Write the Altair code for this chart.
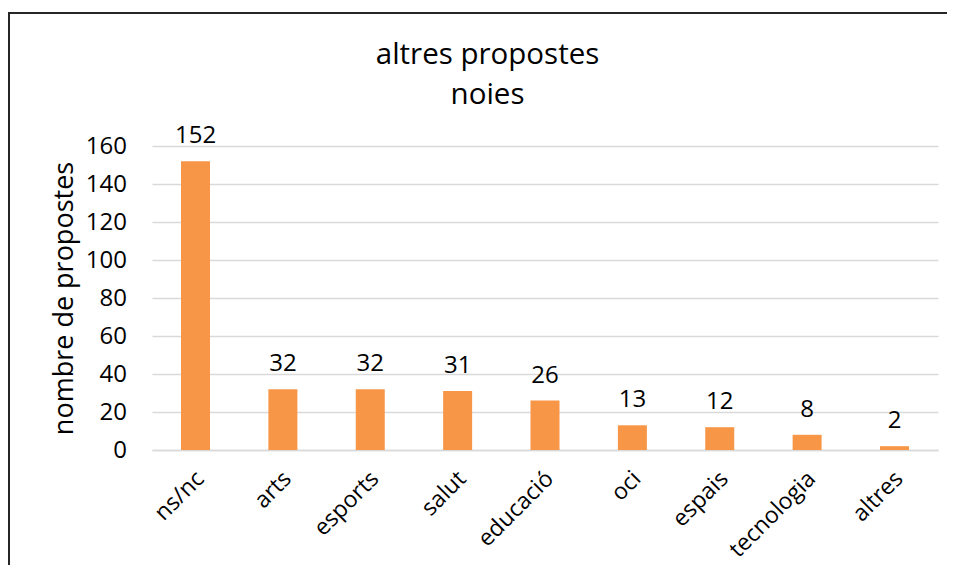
import altair as alt
import pandas as pd

categories = ["ns/nc", "arts", "esports", "salut", "educació", "oci", "espais", "tecnologia", "altres"]
values = [152, 32, 32, 31, 26, 13, 12, 8, 2]
y_ticks = [0, 20, 40, 60, 80, 100, 120, 140, 160]

df = pd.DataFrame({"categoria": categories, "valor": values})

FONT = "Open Sans"

x_enc = alt.X(
    "categoria:N",
    sort=categories,
    title=None,
    scale=alt.Scale(paddingInner=0.668, paddingOuter=0.332),
    axis=alt.Axis(
        labelAngle=-45,
        labelAlign="right",
        labelBaseline="top",
        labelFontSize=23,
        labelFont=FONT,
        labelColor="#000000",
        labelPadding=17,
        labelOffset=-3,
        labelOverlap=False,
        ticks=False,
        domain=True,
        domainColor="#d9d9d9",
        domainWidth=1.5,
        grid=False,
    ),
)
y_enc = alt.Y(
    "valor:Q",
    title="nombre de propostes",
    scale=alt.Scale(domain=[0, 160], nice=False),
    axis=alt.Axis(
        values=y_ticks,
        tickCount=9,
        labelFontSize=24,
        labelFont=FONT,
        labelColor="#000000",
        labelPadding=25.5,
        labelOverlap=False,
        ticks=False,
        domain=False,
        grid=True,
        gridColor="#d9d9d9",
        gridWidth=1.5,
        titleFontSize=27,
        titleFont=FONT,
        titleFontWeight="normal",
        titleColor="#000000",
        titleX=-80,
        titleY=152,
        titleBaseline="alphabetic",
        titleAlign="center",
        titleAngle=270,
    ),
)

frame = alt.Chart(pd.DataFrame({"f": [0]})).mark_rect(
    filled=False, stroke="#262626", strokeWidth=2, clip=False
).encode(
    x=alt.value(-143), x2=alt.value(900), y=alt.value(-133), y2=alt.value(600)
)

bars = alt.Chart(df).mark_bar(color="#F79646").encode(x=x_enc, y=y_enc)

labels = alt.Chart(df).mark_text(
    dy=-18, baseline="alphabetic", fontSize=24, font=FONT, color="#000000"
).encode(x=x_enc, y=y_enc, text="valor:Q")

chart = alt.layer(frame, bars, labels).properties(
    width=786,
    height=304,
    autosize=alt.AutoSizeParams(type="none"),
    padding={"left": 144, "top": 138, "right": 9, "bottom": 115},
    title=alt.TitleParams(
        text=["altres propostes", "noies"],
        fontSize=29.5,
        font=FONT,
        fontWeight="normal",
        color="#000000",
        lineHeight=40,
        anchor="middle",
        baseline="alphabetic",
        dx=-57.5,
        dy=125,
    ),
).configure(background="white").configure_view(stroke=None)

chart.save("out.html", embed_options={"renderer": "svg", "actions": False})
